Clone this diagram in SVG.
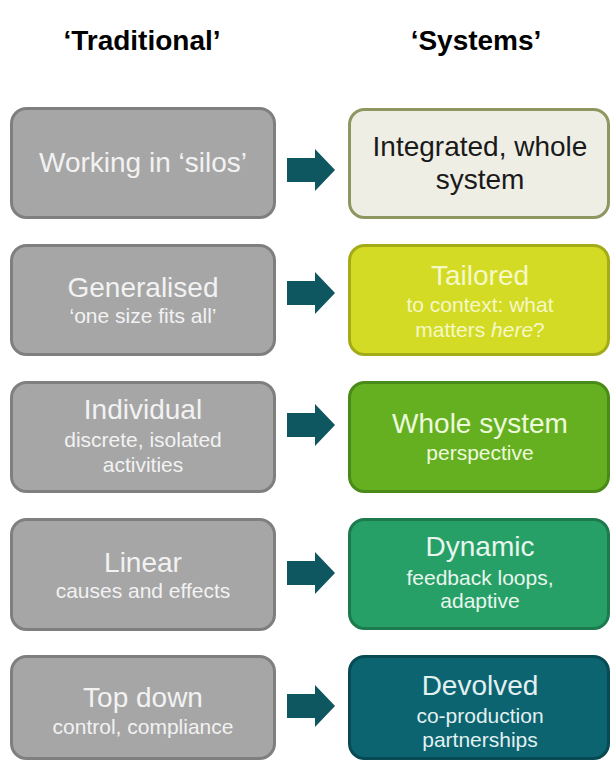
<svg xmlns="http://www.w3.org/2000/svg" width="611" height="761" viewBox="0 0 611 761">
<style>
text{font-family:"Liberation Sans",Arial,sans-serif;text-anchor:middle}
.title{font-size:28px;font-weight:bold;fill:#000}
.l rect{fill:#a6a6a6;stroke:#7f7f7f;stroke-width:3}
.l text{fill:#f2f2f2}
.m{font-size:28px}
.s{font-size:21px}
.arrow{fill:#0e5660}
</style>
<defs>
<path id="arr" d="M287,-12 H315 V-21 L335,0 L315,21 V12 H287 Z"/>
</defs>
<rect width="611" height="761" fill="#fff"/>
<text class="title" x="142" y="50">‘Traditional’</text>
<text class="title" x="476" y="50">‘Systems’</text>

<g id="left1" class="l"><rect x="11.5" y="108.5" width="263" height="109" rx="15"/>
<text class="m" x="143" y="172">Working in ‘silos’</text></g>
<g id="left2" class="l"><rect x="11.5" y="245.5" width="263" height="109" rx="15"/>
<text class="m" x="143" y="297">Generalised</text><text class="s" x="143" y="323">‘one size fits all’</text></g>
<g id="left3" class="l"><rect x="11.5" y="382.5" width="263" height="109" rx="15"/>
<text class="m" x="143" y="419">Individual</text><text class="s" x="143" y="447">discrete, isolated</text><text class="s" x="143" y="472">activities</text></g>
<g id="left4" class="l"><rect x="11.5" y="519.5" width="263" height="110" rx="15"/>
<text class="m" x="143" y="572">Linear</text><text class="s" x="143" y="598">causes and effects</text></g>
<g id="left5" class="l"><rect x="11.5" y="656.5" width="263" height="102" rx="15"/>
<text class="m" x="143" y="707">Top down</text><text class="s" x="143" y="734">control, compliance</text></g>

<g id="right1"><rect x="349.5" y="109.5" width="259" height="108" rx="15" fill="#eeeee5" stroke="#8f9660" stroke-width="3"/>
<text class="m" x="480" y="156" fill="#1a1a1a">Integrated, whole</text><text class="m" x="480" y="189" fill="#1a1a1a">system</text></g>
<g id="right2"><rect x="349.5" y="245.5" width="259" height="109" rx="15" fill="#d3db24" stroke="#a3ac18" stroke-width="3"/>
<text class="m" x="480" y="285" fill="#f6f8c8">Tailored</text><text class="s" x="480" y="312" fill="#f6f8c8">to context: what</text><text class="s" x="480" y="337" fill="#f6f8c8">matters <tspan font-style="italic">here</tspan>?</text></g>
<g id="right3"><rect x="349.5" y="382.5" width="259" height="109" rx="15" fill="#64b021" stroke="#4a8a18" stroke-width="3"/>
<text class="m" x="480" y="433" fill="#eefadc">Whole system</text><text class="s" x="480" y="460" fill="#eefadc">perspective</text></g>
<g id="right4"><rect x="349.5" y="519.5" width="259" height="109" rx="15" fill="#27a067" stroke="#1c7a4e" stroke-width="3"/>
<text class="m" x="480" y="556" fill="#e8f6ee">Dynamic</text><text class="s" x="480" y="585" fill="#e8f6ee">feedback loops,</text><text class="s" x="480" y="608" fill="#e8f6ee">adaptive</text></g>
<g id="right5"><rect x="349.5" y="656.5" width="259" height="102" rx="15" fill="#0b6470" stroke="#074a53" stroke-width="3"/>
<text class="m" x="480" y="695" fill="#e2f0f0">Devolved</text><text class="s" x="480" y="723" fill="#e2f0f0">co-production</text><text class="s" x="480" y="747" fill="#e2f0f0">partnerships</text></g>

<g id="connectors" class="arrow">
<use href="#arr" y="170"/>
<use href="#arr" y="293"/>
<use href="#arr" y="425"/>
<use href="#arr" y="573"/>
<use href="#arr" y="706"/>
</g>
</svg>
